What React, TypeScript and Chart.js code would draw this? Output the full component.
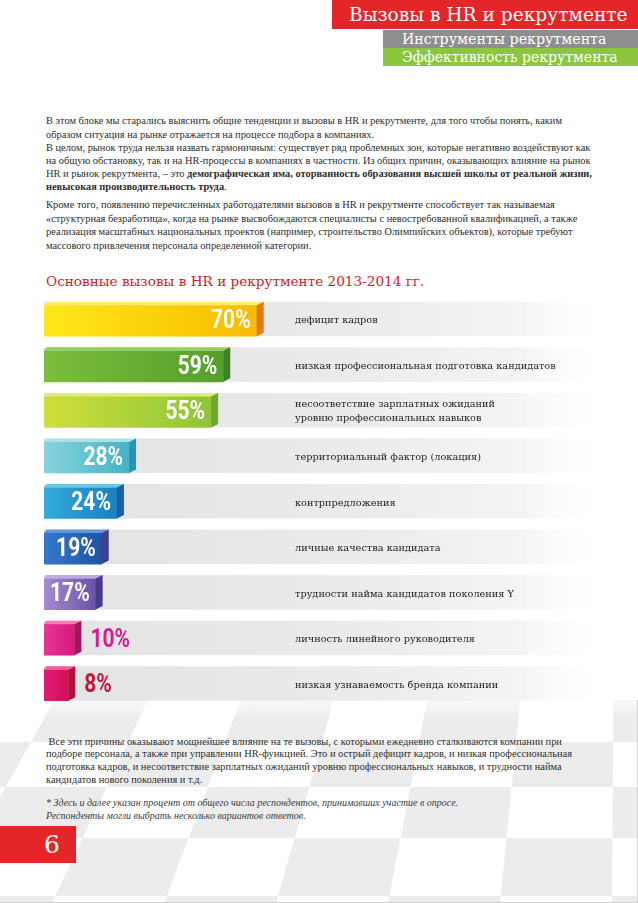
import React, { useEffect, useRef } from "react";
import { Chart, registerables } from "chart.js";

Chart.register(...registerables);

// ---------- data ----------
const categories: string[][] = [
  ["дефицит кадров"],
  ["низкая профессиональная подготовка кандидатов"],
  ["несоответствие зарплатных ожиданий", "уровню профессиональных навыков"],
  ["территориальный фактор (локация)"],
  ["контрпредложения"],
  ["личные качества кандидата"],
  ["трудности найма кандидатов поколения Y"],
  ["личность линейного руководителя"],
  ["низкая узнаваемость бренда компании"],
];
const values: number[] = [70, 59, 55, 28, 24, 19, 17, 10, 8];
const valueLabels: string[] = ["70%", "59%", "55%", "28%", "24%", "19%", "17%", "10%", "8%"];

// ---------- styles ----------
const frontStart = ["#ffe81a", "#7cbd3c", "#cfe03a", "#86d3dc", "#35abdc", "#3479c9", "#a58bd1", "#ea3595", "#e21a78"];
const frontEnd = ["#f8bb00", "#559f2c", "#8fc43b", "#45b3c7", "#1a7fbf", "#1e55a5", "#6c52a9", "#d81a7b", "#d2105c"];
const topColor = ["#ffec70", "#96cf5c", "#e0eb7a", "#aee2e8", "#6cc4e8", "#6398d8", "#bea9e0", "#f27bb8", "#ee5f95"];
const sideColor = ["#df7b12", "#3f7f25", "#6ea82d", "#2c93b8", "#1a5ea8", "#433f8f", "#4a3a8b", "#a6135d", "#b30f38"];
const outsideLabelColor = ["#fff", "#fff", "#fff", "#fff", "#fff", "#fff", "#fff", "#d71d8c", "#c4173e"];

const DX = 7;
const DY = 3.5;

const bar3d = {
  id: "bar3d",
  beforeDatasetsDraw(chart: any) {
    const ctx = chart.ctx;
    const area = chart.chartArea;
    const meta = chart.getDatasetMeta(0);
    meta.data.forEach((el: any) => {
      const { y, height } = el.getProps(["y", "height"], true);
      const t = y - height / 2 - DY;
      const b = y + height / 2;
      const right = area.right + 6;
      const g = ctx.createLinearGradient(area.left, 0, right, 0);
      g.addColorStop(0, "#e3e3e3");
      g.addColorStop(0.55, "#ebebeb");
      g.addColorStop(0.85, "#f4f4f4");
      g.addColorStop(1, "rgba(255,255,255,0)");
      ctx.save();
      ctx.fillStyle = g;
      ctx.fillRect(area.left, t, right - area.left, b - t);
      ctx.restore();
    });
  },
  afterDatasetsDraw(chart: any) {
    const ctx = chart.ctx;
    const meta = chart.getDatasetMeta(0);
    meta.data.forEach((el: any, i: number) => {
      const { x, y, base, height } = el.getProps(["x", "y", "base", "height"], true);
      const t = y - height / 2;
      const b = y + height / 2;
      ctx.save();
      // top face
      ctx.beginPath();
      ctx.moveTo(base, t);
      ctx.lineTo(base + 2.5, t - DY);
      ctx.lineTo(x + DX, t - DY);
      ctx.lineTo(x, t);
      ctx.closePath();
      ctx.fillStyle = topColor[i];
      ctx.fill();
      // side face
      ctx.beginPath();
      ctx.moveTo(x, t);
      ctx.lineTo(x + DX, t - DY);
      ctx.lineTo(x + DX, b - DY);
      ctx.lineTo(x, b);
      ctx.closePath();
      ctx.fillStyle = sideColor[i];
      ctx.fill();

      // percent label
      const inside = values[i] >= 15;
      ctx.font = "bold 25px Roboto";
      ctx.textBaseline = "middle";
      const sx = 0.84;
      if (inside) {
        ctx.translate(x - 6, y + 1);
        ctx.scale(sx, 1);
        ctx.textAlign = "right";
        ctx.fillStyle = "#ffffff";
      } else {
        ctx.translate(x + DX + 9, y + 1);
        ctx.scale(sx, 1);
        ctx.textAlign = "left";
        ctx.fillStyle = outsideLabelColor[i];
      }
      ctx.fillText(valueLabels[i], 0, 0);
      ctx.restore();

      // category label
      ctx.save();
      ctx.font = "9.75px 'DejaVu Serif'";
      ctx.fillStyle = "#1e1e1e";
      ctx.textBaseline = "middle";
      ctx.textAlign = "left";
      const lines = categories[i];
      const lh = 14;
      lines.forEach((ln, k) => {
        const yy = y - ((lines.length - 1) * lh) / 2 + k * lh;
        ctx.fillText(ln, 295, yy);
      });
      ctx.restore();
    });
  },
};

const bodyFont = "'Liberation Serif', serif";

const para1: React.ReactNode[] = [
  "В этом блоке мы старались выяснить общие тенденции и вызовы в HR и рекрутменте, для того чтобы понять, каким",
  "образом ситуация на рынке отражается на процессе подбора в компаниях.",
  "В целом, рынок труда нельзя назвать гармоничным: существует ряд проблемных зон, которые негативно воздействуют как",
  "на общую обстановку, так и на HR-процессы в компаниях в частности. Из общих причин, оказывающих влияние на рынок",
  <>
    HR и рынок рекрутмента, – это <b>демографическая яма, оторванность образования высшей школы от реальной жизни,</b>
  </>,
  <>
    <b>невысокая производительность труда</b>.
  </>,
];
const para2 = [
  "Кроме того, появлению перечисленных работодателями вызовов в HR и рекрутменте способствует так называемая",
  "«структурная безработица», когда на рынке высвобождаются специалисты с невостребованной квалификацией, а также",
  "реализация масштабных национальных проектов (например, строительство Олимпийских объектов), которые требуют",
  "массового привлечения персонала определенной категории.",
];
const para3 = [
  "\u00a0Все эти причины оказывают мощнейшее влияние на те вызовы, с которыми ежедневно сталкиваются компании при",
  "подборе персонала, а также при управлении HR-функцией. Это и острый дефицит кадров, и низкая профессиональная",
  "подготовка кадров, и несоответствие зарплатных ожиданий уровню профессиональных навыков, и трудности найма",
  "кандидатов нового поколения и т.д.",
];
const notes = [
  "* Здесь и далее указан процент от общего числа респондентов, принимавших участие в опросе.",
  "Респонденты могли выбрать несколько вариантов ответов.",
];

function Lines(props: { lines: React.ReactNode[]; top: number; left: number; lh: number; size: number; italic?: boolean; color?: string }) {
  const { lines, top, left, lh, size, italic, color } = props;
  return (
    <>
      {lines.map((l, i) => (
        <div
          key={i}
          style={{
            position: "absolute",
            left,
            top: top + i * lh - lh / 2,
            height: lh,
            lineHeight: lh + "px",
            fontFamily: bodyFont,
            fontSize: size,
            fontStyle: italic ? "italic" : "normal",
            color: color || "#2e2e2e",
            whiteSpace: "nowrap",
          }}
        >
          {l}
        </div>
      ))}
    </>
  );
}

function Checker() {
  const vx = 620;
  const vy = -300;
  const yb = 903;
  const rows = [700, 742, 787, 838, 896, 960];
  const cols: number[] = [];
  for (let k = -6; k <= 10; k++) cols.push(-60 + k * 112);
  const xAt = (xb: number, y: number) => vx + ((xb - vx) * (y - vy)) / (yb - vy);
  const polys: string[] = [];
  for (let r = 0; r < rows.length - 1; r++) {
    for (let c = 0; c < cols.length - 1; c++) {
      if ((r + c) % 2 !== 0) continue;
      const y0 = rows[r];
      const y1 = rows[r + 1];
      const p = [
        [xAt(cols[c], y0), y0],
        [xAt(cols[c + 1], y0), y0],
        [xAt(cols[c + 1], y1), y1],
        [xAt(cols[c], y1), y1],
      ];
      polys.push(p.map((q) => q[0].toFixed(1) + "," + q[1].toFixed(1)).join(" "));
    }
  }
  return (
    <svg width={638} height={903} style={{ position: "absolute", left: 0, top: 0 }}>
      <defs>
        <linearGradient id="fadeTop" x1="0" y1="0" x2="0" y2="1">
          <stop offset="0" stopColor="#fff" stopOpacity="1" />
          <stop offset="1" stopColor="#fff" stopOpacity="0" />
        </linearGradient>
      </defs>
      {polys.map((p, i) => (
        <polygon key={i} points={p} fill="#ececec" />
      ))}
      <rect x={0} y={690} width={638} height={30} fill="url(#fadeTop)" />
      <line x1={637.5} y1={700} x2={637.5} y2={903} stroke="#d0d0d0" strokeWidth={1} />
      <line x1={0} y1={902.5} x2={638} y2={902.5} stroke="#d0d0d0" strokeWidth={1} />
    </svg>
  );
}

export default function App() {
  const ref = useRef<HTMLCanvasElement>(null);

  useEffect(() => {
    document.body.style.margin = "0";
    const canvas = ref.current!;
    const chart = new Chart(canvas, {
      type: "bar",
      data: {
        labels: categories.map((c) => c.join(" ")),
        datasets: [
          {
            data: values,
            backgroundColor: (c: any) => {
              const i = c.dataIndex;
              if (i === undefined) return frontEnd[0];
              const ch = c.chart;
              const area = ch.chartArea;
              if (!area || !ch.scales.x) return frontEnd[i];
              const xEnd = ch.scales.x.getPixelForValue(values[i]);
              const g = ch.ctx.createLinearGradient(area.left, 0, Math.max(xEnd, area.left + 1), 0);
              g.addColorStop(0, frontStart[i]);
              g.addColorStop(1, frontEnd[i]);
              return g;
            },
            borderWidth: 0,
            barThickness: 31,
          },
        ],
      },
      options: {
        indexAxis: "y",
        responsive: false,
        animation: false,
        layout: { padding: { left: 44, right: 38, top: 0, bottom: 0 } },
        scales: {
          x: { display: false, min: 0, max: 183, grid: { display: false } },
          y: { display: false, grid: { display: false } },
        },
        plugins: {
          legend: { display: false },
          tooltip: { enabled: false },
        },
      },
      plugins: [bar3d],
    } as any);
    return () => chart.destroy();
  }, []);

  const hdr = (left: number, top: number, h: number, size: number, text: string) => (
    <div
      style={{
        position: "absolute",
        left,
        top,
        height: h,
        lineHeight: h + "px",
        fontFamily: "'DejaVu Serif', serif",
        fontSize: size,
        color: "#fff",
        whiteSpace: "nowrap",
      }}
    >
      {text}
    </div>
  );

  return (
    <div
      style={{
        position: "absolute",
        left: 0,
        top: 0,
        width: 638,
        height: 903,
        overflow: "hidden",
        background: "#ffffff",
      }}
    >
      <Checker />

      {/* header */}
      <div style={{ position: "absolute", left: 332, top: 0, width: 306, height: 29, background: "#e52629" }} />
      {hdr(349, 0, 29, 18.6, "Вызовы в HR и рекрутменте")}
      <div style={{ position: "absolute", left: 383, top: 30, width: 255, height: 18, background: "#8e8e8e" }} />
      {hdr(402, 30, 18, 14.2, "Инструменты рекрутмента")}
      <div style={{ position: "absolute", left: 383, top: 48, width: 255, height: 18, background: "#8cc63f" }} />
      {hdr(402, 48, 18, 14, "Эффективность рекрутмента")}

      <Lines lines={para1} top={121} left={46} lh={13.1} size={10.4} />
      <Lines lines={para2} top={205} left={46} lh={13.6} size={10.4} />

      {/* chart title */}
      <div
        style={{
          position: "absolute",
          left: 46,
          top: 271,
          height: 20,
          lineHeight: "20px",
          fontFamily: "'DejaVu Serif', serif",
          fontSize: 13.6,
          color: "#d2202a",
          whiteSpace: "nowrap",
        }}
      >
        Основные вызовы в HR и рекрутменте 2013-2014 гг.
      </div>

      <canvas
        ref={ref}
        width={638}
        height={410}
        style={{ position: "absolute", left: 0, top: 298, width: 638, height: 410 }}
      />

      <Lines lines={para3} top={742} left={46} lh={12.8} size={10.4} />
      <Lines lines={notes} top={802} left={46} lh={13} size={10} italic color="#3a3a3a" />

      {/* page number */}
      <div style={{ position: "absolute", left: 0, top: 826, width: 76, height: 37, background: "#e52629" }} />
      <div
        style={{
          position: "absolute",
          left: 28,
          top: 826,
          width: 48,
          height: 37,
          lineHeight: "37px",
          textAlign: "center",
          fontFamily: "'DejaVu Serif', serif",
          fontSize: 25,
          color: "#fff",
        }}
      >
        6
      </div>
    </div>
  );
}
